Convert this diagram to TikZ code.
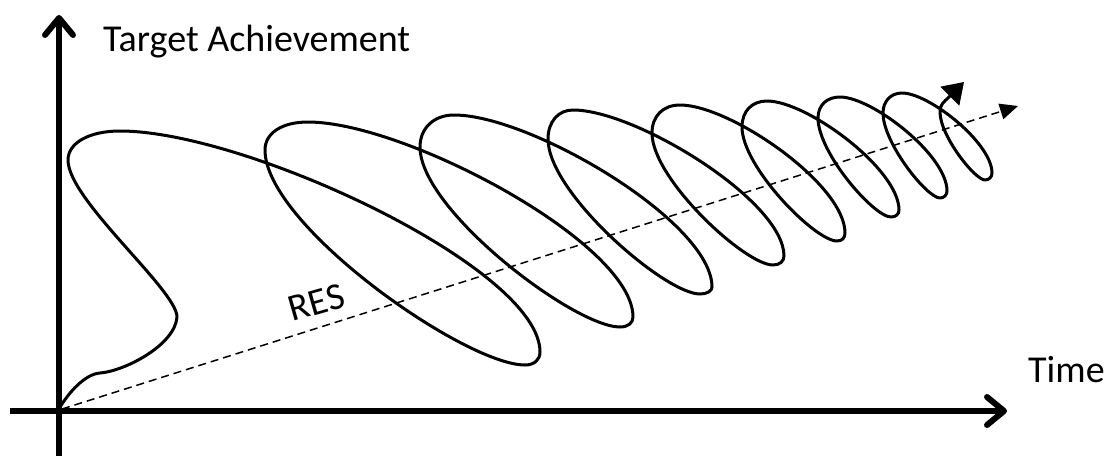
\documentclass[tikz,border=0pt]{standalone}
\usepackage{fontspec}
\setmainfont{Carlito}
\usetikzlibrary{arrows.meta}
\begin{document}
\begin{tikzpicture}[x=1pt,y=-1pt,
  axis/.style={line width=6pt,-{Straight Barb[length=17pt,width=28pt,round]}},
  spiral/.style={line width=3pt,line cap=round,line join=round},
  trend/.style={line width=1.5pt,dash pattern=on 8pt off 5pt,-{Triangle[length=18pt,width=16pt]}},
  lbl/.style={font=\fontsize{38}{46}\selectfont,inner sep=0pt}]
\fill[white] (0,0) rectangle (1110,456);
\useasboundingbox (0,0) rectangle (1110,456);
% named points
\coordinate (O) at (59,411);
\coordinate (ybot) at (59,456);
\coordinate (ytop) at (59,15);
\coordinate (xleft) at (10,411);
\coordinate (xright) at (1007,411);
\coordinate (rstart) at (62,409);
\coordinate (rend) at (1018,106);
% spiral
\draw[spiral,-{Triangle[length=20pt,width=26pt]}]
 (59,409) .. controls (68,393) and (85,374) .. (100,373)
 .. controls (125,371) and (175,345) .. (177,317)
 .. controls (177,290) and (68,200) .. (68,160)
 .. controls (68,143) and (89,131) .. (120,131)
 .. controls (246,131) and (540,268) .. (540,352)
 .. controls (540,360) and (534,365) .. (525,365)
 .. controls (465,365) and (265,225) .. (265,150)
 .. controls (265,133) and (282,122) .. (308,122)
 .. controls (405,122) and (633,243) .. (633,317)
 .. controls (633,323) and (628,327) .. (620,327)
 .. controls (574,327) and (420,210) .. (420,147)
 .. controls (420,128) and (434,115) .. (454,115)
 .. controls (531,115) and (712,222) .. (712,287)
 .. controls (712,291) and (707,294) .. (700,294)
 .. controls (665,294) and (548,193) .. (548,139)
 .. controls (548,122) and (558,110) .. (573,110)
 .. controls (636,110) and (784,201) .. (784,256)
 .. controls (784,261) and (780,265) .. (773,265)
 .. controls (745,265) and (652,179) .. (652,133)
 .. controls (652,116) and (663,105) .. (680,105)
 .. controls (730,105) and (845,184) .. (845,233)
 .. controls (845,238) and (842,241) .. (837,241)
 .. controls (815,241) and (742,167) .. (742,127)
 .. controls (742,111) and (752,101) .. (767,101)
 .. controls (807,101) and (899,169) .. (899,210)
 .. controls (899,214) and (896,217) .. (891,217)
 .. controls (874,217) and (818,153) .. (818,118)
 .. controls (818,105) and (827,97) .. (840,97)
 .. controls (872,97) and (947,155) .. (947,191)
 .. controls (947,195) and (944,198) .. (940,198)
 .. controls (927,198) and (883,143) .. (883,113)
 .. controls (883,101) and (891,93) .. (902,93)
 .. controls (929,93) and (992,143) .. (992,173)
 .. controls (992,177) and (989,180) .. (985,180)
 .. controls (975,180) and (940,136) .. (940,112)
 .. controls (940,104) and (944,102) .. (949,97) -- (964,82);
% trend line
\draw[trend] (rstart) -- (rend);
% axes
\draw[axis] (ybot) -- (ytop);
\draw[axis] (xleft) -- (xright);
% labels
\node[lbl,anchor=base west] (ylab) at (103,51) {Target Achievement};
\node[lbl,anchor=base west] (xlab) at (1028,382) {Time};
\node[lbl,anchor=base,rotate=16] (res) at (320,314) {RES};
\end{tikzpicture}
\end{document}
